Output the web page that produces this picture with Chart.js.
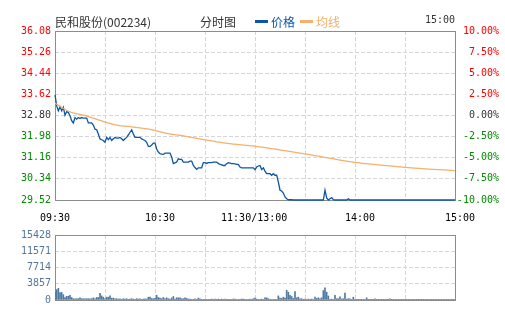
<!DOCTYPE html>
<html lang="zh-CN">
<head>
<meta charset="utf-8">
<title>民和股份 分时图</title>
<script src="https://cdn.jsdelivr.net/npm/chart.js@4.4.1/dist/chart.umd.min.js"></script>
<style>
  html, body { margin: 0; padding: 0; background: #fff; }
  #wrap { position: relative; width: 505px; height: 330px; overflow: hidden; }
  #wrap canvas { position: absolute; left: 0; }
  #priceChart { top: 0; }
  #volumeChart { top: 225px; }
  .hd { position: absolute; top: 13px; line-height: 16px; white-space: nowrap;
        font: 12px "Noto Sans CJK SC", sans-serif; color: #333; }
  .mark { position: absolute; top: 20px; width: 13px; height: 3px; }
  .clock { font: 10px "DejaVu Sans Mono", monospace; top: 14px; }
</style>
</head>
<body>
<div id="wrap">
  <canvas id="priceChart" width="505" height="225"></canvas>
  <canvas id="volumeChart" width="505" height="105"></canvas>
  <span class="hd" style="left:55px">民和股份(002234)</span>
  <span class="hd" style="left:200px">分时图</span>
  <span class="mark" style="left:255px;background:#0b57a7"></span>
  <span class="hd" style="left:271px;color:#0b57a7">价格</span>
  <span class="mark" style="left:300px;background:#f4b06c"></span>
  <span class="hd" style="left:316px;color:#f4b06c">均线</span>
  <span class="hd clock" style="left:425px">15:00</span>
</div>
<script>
// previous close and the ±10% band around it
const prevClose = 32.80;
const priceTicks = [29.52, 30.34, 31.16, 31.98, 32.80, 33.62, 34.44, 35.26, 36.08];
const pctTicks = [-10, -7.5, -5, -2.5, 0, 2.5, 5, 7.5, 10];
const volumeTicks = [0, 3857, 7714, 11571, 15428];

// minutes since 09:30 (lunch break folded out), 240 = 15:00
const timeGridTicks = [0, 30, 60, 90, 120, 150, 180, 210, 240];
const timeLabels = ['09:30', '10:30', '11:30/13:00', '14:00', '15:00'];
const timeLabelAt = [0, 63, 119.5, 183, 243];

// one price per minute
const priceValues = [
  33.60, 33.17, 32.98, 33.15, 32.98, 33.12, 32.81, 32.95, 32.92, 32.79,
  32.60, 32.51, 32.72, 32.66, 32.72, 32.68, 32.72, 32.70, 32.70, 32.70,
  32.51, 32.51, 32.51, 32.43, 32.27, 32.25, 32.08, 31.89, 31.86, 31.83,
  31.76, 31.95, 31.86, 31.95, 31.83, 31.90, 31.95, 31.92, 31.92, 31.95,
  31.90, 31.83, 31.90, 31.95, 32.05, 32.15, 32.24, 32.08, 31.95, 31.95,
  31.95, 31.95, 31.89, 31.86, 31.83, 31.76, 31.60, 31.60, 31.65, 31.73,
  31.73, 31.50, 31.38, 31.32, 31.30, 31.29, 31.34, 31.34, 31.34, 31.34,
  31.19, 30.93, 30.96, 30.99, 31.12, 31.10, 31.10, 30.99, 30.99, 30.99,
  30.99, 31.03, 31.03, 30.86, 30.78, 30.71, 30.77, 30.77, 30.77, 30.97,
  30.97, 30.94, 30.97, 30.97, 30.97, 30.99, 30.99, 30.99, 30.94, 30.90,
  30.88, 30.86, 30.86, 30.93, 30.97, 30.95, 30.93, 30.93, 30.92, 30.90,
  30.90, 30.80, 30.77, 30.77, 30.77, 30.77, 30.77, 30.77, 30.77, 30.77,
  30.70, 30.80, 30.84, 30.86, 30.70, 30.77, 30.64, 30.54, 30.54, 30.54,
  30.48, 30.54, 30.48, 30.48, 30.22, 29.90, 29.87, 29.79, 29.64, 29.57,
  29.53, 29.53, 29.53, 29.52, 29.52, 29.52, 29.52, 29.52, 29.52, 29.52,
  29.52, 29.52, 29.52, 29.52, 29.52, 29.52, 29.52, 29.52, 29.52, 29.52,
  29.52, 29.52, 29.90, 29.60, 29.52, 29.57, 29.61, 29.53, 29.52, 29.52,
  29.52, 29.52, 29.52, 29.52, 29.52, 29.52, 29.57, 29.52, 29.52, 29.52,
  29.52, 29.52, 29.52, 29.52, 29.52, 29.52, 29.52, 29.52, 29.52, 29.52,
  29.52, 29.52, 29.52, 29.52, 29.52, 29.52, 29.52, 29.52, 29.52, 29.52,
  29.52, 29.52, 29.52, 29.52, 29.52, 29.52, 29.52, 29.52, 29.52, 29.52,
  29.52, 29.52, 29.52, 29.52, 29.52, 29.52, 29.52, 29.52, 29.52, 29.52,
  29.52, 29.52, 29.52, 29.52, 29.52, 29.52, 29.52, 29.52, 29.52, 29.52,
  29.52, 29.52, 29.52, 29.52, 29.52, 29.52, 29.52, 29.52, 29.52, 29.52,
  29.52
];

// running average price
const avgMinutes = [0, 1, 5, 9, 13, 19, 27, 37, 47, 57, 67, 77, 87, 97, 107, 117, 150, 179, 210, 240];
const avgValues = [33.28, 33.24, 33.07, 32.94, 32.87, 32.78, 32.61, 32.43, 32.35, 32.26, 32.11,
                   32.01, 31.89, 31.78, 31.69, 31.63, 31.31, 30.99, 30.79, 30.66];

// volume per minute (lots)
const volumeValues = [
  1800, 2460, 2760, 1790, 1790, 1270, 600, 890, 890, 1120,
  600, 300, 300, 300, 300, 520, 300, 300, 300, 300,
  300, 300, 300, 520, 300, 600, 600, 1570, 970, 670,
  300, 670, 670, 970, 450, 450, 300, 300, 220, 300,
  150, 300, 220, 300, 150, 220, 300, 220, 150, 300,
  220, 300, 150, 220, 300, 220, 670, 670, 370, 300,
  370, 1120, 600, 450, 300, 600, 300, 520, 300, 220,
  450, 820, 220, 520, 520, 520, 300, 300, 520, 370,
  220, 220, 150, 150, 300, 150, 450, 300, 150, 150,
  150, 150, 150, 150, 220, 150, 220, 150, 220, 150,
  220, 150, 220, 150, 150, 100, 100, 220, 220, 100,
  100, 100, 220, 220, 100, 100, 100, 220, 100, 300,
  450, 220, 100, 100, 220, 100, 520, 520, 300, 100,
  100, 100, 100, 150, 970, 450, 370, 670, 450, 2310,
  1860, 1120, 820, 370, 2010, 520, 670, 300, 300, 150,
  220, 100, 220, 100, 220, 100, 670, 370, 520, 300,
  520, 2240, 2900, 1860, 970, 100, 220, 100, 1120, 300,
  300, 740, 220, 300, 1640, 220, 300, 300, 100, 670,
  150, 60, 60, 60, 60, 60, 60, 520, 60, 60,
  60, 60, 300, 60, 60, 60, 60, 60, 60, 60,
  60, 300, 60, 60, 60, 60, 60, 60, 60, 60,
  60, 60, 60, 60, 60, 60, 60, 60, 60, 60,
  60, 60, 60, 60, 60, 60, 60, 60, 60, 60,
  60, 60, 60, 60, 60, 60, 60, 60, 60, 60,
  60
];

const PRICE_BLUE = '#0b57a7';
const AVG_ORANGE = '#f4b06c';
const VOL_BLUE = '#4d79a5';
const UP_RED = '#ff0000';
const DOWN_GREEN = '#008a00';
const FLAT_GRAY = '#333333';
const GRID = '#d6d6d6';
const TICK_FONT = { family: 'DejaVu Sans Mono', size: 10 };

// solid frame round the plot area, under the data
const framePlugin = {
  id: 'frame',
  beforeDatasetsDraw(chart) {
    const { ctx, chartArea: a } = chart;
    ctx.save();
    ctx.strokeStyle = '#8c8c8c';
    ctx.lineWidth = 1;
    ctx.strokeRect(Math.round(a.left) + 0.5, Math.round(a.top) + 0.5,
      Math.round(a.right - a.left), Math.round(a.bottom - a.top));
    ctx.restore();
  }
};

window.addEventListener('DOMContentLoaded', () => {
  Chart.defaults.font.family = 'DejaVu Sans Mono';
  Chart.defaults.animation = false;
  setupPriceChart();
  setupVolumeChart();
});

function fixedTicks(values) {
  return scale => { scale.ticks = values.map(value => ({ value })); };
}

function trendColor(value, base) {
  if (Math.abs(value - base) < 1e-6) return FLAT_GRAY;
  return value > base ? UP_RED : DOWN_GREEN;
}

function timeGridAxis(height) {
  return {
    type: 'linear', min: 0, max: 240, offset: false,
    afterBuildTicks: fixedTicks(timeGridTicks),
    afterFit: scale => { scale.height = height; },
    ticks: { display: false },
    grid: { color: GRID, drawTicks: false, offset: false },
    border: { display: false, dash: [4, 2] }
  };
}

function setupPriceChart() {
  const ctx = document.getElementById('priceChart').getContext('2d');
  new Chart(ctx, {
    type: 'line',
    data: {
      datasets: [
        {
          label: '均线',
          data: avgMinutes.map((m, i) => ({ x: m, y: avgValues[i] })),
          borderColor: AVG_ORANGE,
          borderWidth: 1.3,
          pointRadius: 0,
          cubicInterpolationMode: 'monotone'
        },
        {
          label: '价格',
          data: priceValues.map((v, i) => ({ x: i, y: v })),
          borderColor: PRICE_BLUE,
          borderWidth: 1.3,
          pointRadius: 0,
          tension: 0,
          clip: false
        }
      ]
    },
    options: {
      responsive: false,
      devicePixelRatio: 1,
      events: [],
      layout: { padding: { top: 31, right: 6, bottom: 0, left: 0 } },
      plugins: { legend: { display: false }, tooltip: { enabled: false } },
      scales: {
        x: timeGridAxis(0),
        xl: {
          type: 'linear', position: 'bottom', min: 0, max: 240,
          afterBuildTicks: fixedTicks(timeLabelAt),
          afterFit: scale => { scale.height = 25; },
          grid: { display: false, drawTicks: false },
          border: { display: false },
          ticks: {
            autoSkip: false, maxRotation: 0, padding: 12,
            color: '#000', font: TICK_FONT,
            callback: (value, index) => timeLabels[index]
          }
        },
        y: {
          position: 'left', min: priceTicks[0], max: priceTicks[priceTicks.length - 1],
          afterBuildTicks: fixedTicks(priceTicks),
          afterFit: scale => { scale.width = 55; },
          grid: { color: GRID, drawTicks: false },
          border: { display: false, dash: [4, 2] },
          ticks: {
            padding: 4, font: TICK_FONT,
            color: c => trendColor(c.tick.value, prevClose),
            callback: value => value.toFixed(2)
          }
        },
        yr: {
          position: 'right', min: -10, max: 10,
          afterBuildTicks: fixedTicks(pctTicks),
          afterFit: scale => { scale.width = 44; },
          grid: { display: false, drawTicks: false },
          border: { display: false },
          ticks: {
            crossAlign: 'far', font: TICK_FONT,
            color: c => trendColor(c.tick.value, 0),
            callback: value => value.toFixed(2) + '%'
          }
        }
      }
    },
    plugins: [framePlugin]
  });
}

function setupVolumeChart() {
  const ctx = document.getElementById('volumeChart').getContext('2d');
  new Chart(ctx, {
    type: 'bar',
    data: {
      datasets: [{
        label: '成交量',
        data: volumeValues.map((v, i) => ({ x: i, y: v })),
        backgroundColor: VOL_BLUE,
        barThickness: 1
      }]
    },
    options: {
      responsive: false,
      devicePixelRatio: 1,
      events: [],
      layout: { padding: { top: 6, right: 50, bottom: 30, left: 0 } },
      plugins: { legend: { display: false }, tooltip: { enabled: false } },
      scales: {
        x: timeGridAxis(0),
        y: {
          position: 'left', min: 0, max: volumeTicks[volumeTicks.length - 1],
          afterBuildTicks: fixedTicks(volumeTicks),
          afterFit: scale => { scale.width = 55; },
          grid: { color: GRID, drawTicks: false },
          border: { display: false, dash: [4, 2] },
          ticks: { padding: 4, font: TICK_FONT, color: '#52779e', callback: value => String(value) }
        }
      }
    },
    plugins: [framePlugin]
  });
}
</script>
</body>
</html>
